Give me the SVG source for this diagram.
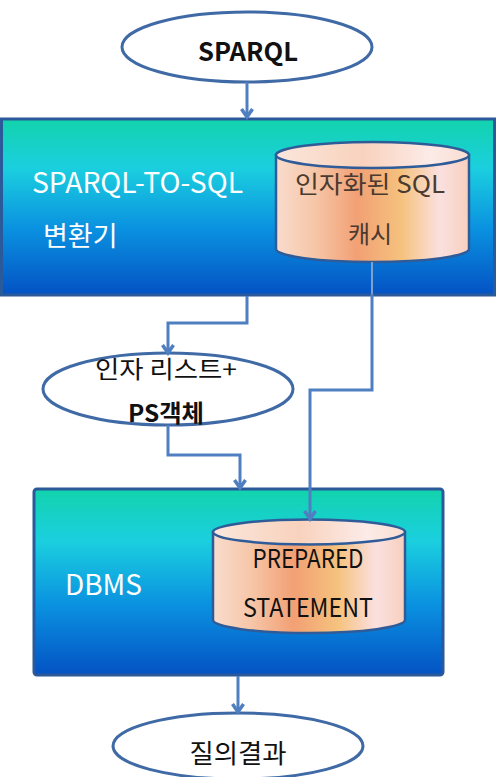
<svg xmlns="http://www.w3.org/2000/svg" width="496" height="777" viewBox="0 0 496 777">
<defs>
<linearGradient id="boxg" x1="0" y1="0" x2="0" y2="1">
<stop offset="0" stop-color="#12d3ad"/>
<stop offset="0.28" stop-color="#1bcfdf"/>
<stop offset="0.62" stop-color="#0a92e0"/>
<stop offset="1" stop-color="#0452c4"/>
</linearGradient>
<linearGradient id="cylg" x1="0" y1="0" x2="1" y2="0">
<stop offset="0" stop-color="#f9dccd"/>
<stop offset="0.2" stop-color="#f6c6a8"/>
<stop offset="0.42" stop-color="#f2a074"/>
<stop offset="0.65" stop-color="#f5c27e"/>
<stop offset="0.85" stop-color="#fbe0e0"/>
<stop offset="1" stop-color="#f7cfbd"/>
</linearGradient>
<linearGradient id="cyltop" x1="0" y1="0" x2="1" y2="0">
<stop offset="0" stop-color="#fbe6dc"/>
<stop offset="0.45" stop-color="#f8d2bd"/>
<stop offset="0.8" stop-color="#fcebe8"/>
<stop offset="1" stop-color="#f9ddd0"/>
</linearGradient>
<marker id="arr" markerWidth="14" markerHeight="14" refX="11" refY="7" orient="auto" markerUnits="userSpaceOnUse" viewBox="0 0 14 14">
<path d="M3,1.5 L11,7 L3,12.5" fill="none" stroke="#4f7fc0" stroke-width="3.5" stroke-linejoin="miter"/>
</marker>
</defs>
<style>
.box{fill:url(#boxg);stroke:#2b5a9a;stroke-width:3}
.oval{fill:#ffffff;stroke:#3f6aa6;stroke-width:3}
.cylbody{fill:url(#cylg);stroke:#2f5c98;stroke-width:2.5}
.cyltop{fill:url(#cyltop);stroke:#2f5c98;stroke-width:2.5}
.t{font-family:"Noto Sans CJK KR","Noto Sans",sans-serif}
.wt{fill:#ffffff}
.dk{fill:#111111}
.br{fill:#4a3a30}
.conn{fill:none;stroke:#4f7fc0;stroke-width:3;marker-end:url(#arr)}
.thin{fill:none;stroke:#7fa0cc;stroke-width:2}
</style>

<g id="node-sparql">
<ellipse class="oval" cx="247" cy="47" rx="125" ry="35"/>
<text class="t dk" x="248" y="61" font-size="26" font-weight="bold" text-anchor="middle" textLength="100" lengthAdjust="spacingAndGlyphs">SPARQL</text>
</g>

<g id="node-converter">
<rect class="box" x="1.5" y="119" width="493" height="176"/>
<text class="t wt" x="32" y="193" font-size="28" textLength="211" lengthAdjust="spacingAndGlyphs">SPARQL-TO-SQL</text>
<text class="t wt" x="43" y="246" font-size="27">변환기</text>
</g>

<g id="node-cache">
<path class="cylbody" d="M276,155 L276,249 A96.5,13 0 0 0 469,249 L469,155 Z"/>
<ellipse class="cyltop" cx="372.5" cy="155" rx="96.5" ry="13"/>
<text class="t br" x="370" y="193" font-size="24" text-anchor="middle" textLength="150" lengthAdjust="spacingAndGlyphs">인자화된 SQL</text>
<text class="t br" x="370" y="243" font-size="24" text-anchor="middle">캐시</text>
</g>

<g id="node-args">
<ellipse class="oval" cx="168" cy="389" rx="125" ry="36"/>
<text class="t dk" x="166" y="378" font-size="24" text-anchor="middle" textLength="142" lengthAdjust="spacingAndGlyphs">인자 리스트+</text>
<text class="t dk" x="166" y="422" font-size="24" font-weight="bold" text-anchor="middle" textLength="76" lengthAdjust="spacingAndGlyphs">PS객체</text>
</g>

<g id="node-dbms">
<rect class="box" x="34" y="489" width="409" height="186" rx="3"/>
<text class="t wt" x="65" y="595" font-size="28" textLength="77" lengthAdjust="spacingAndGlyphs">DBMS</text>
</g>

<g id="node-prepared">
<path class="cylbody" d="M213,532 L213,620 A96,13 0 0 0 405,620 L405,532 Z"/>
<ellipse class="cyltop" cx="309" cy="532" rx="96" ry="12.5"/>
<text class="t dk" x="308" y="568" font-size="26" text-anchor="middle" textLength="111" lengthAdjust="spacingAndGlyphs">PREPARED</text>
<text class="t dk" x="308" y="617" font-size="26" text-anchor="middle" textLength="130" lengthAdjust="spacingAndGlyphs">STATEMENT</text>
</g>

<g id="node-result">
<ellipse class="oval" cx="238" cy="746" rx="125" ry="33"/>
<text class="t dk" x="238" y="763" font-size="26" text-anchor="middle" textLength="97" lengthAdjust="spacingAndGlyphs">질의결과</text>
</g>

<g id="connectors">
<path class="conn" d="M247,82 L247,117"/>
<path class="conn" d="M247,296 L247,323 L168,323 L168,353"/>
<path class="conn" d="M168,425 L168,455 L240,455 L240,488"/>
<path class="thin" d="M372,262 L372,294"/>
<path class="conn" d="M372,294 L372,390 L310,390 L310,519"/>
<path class="conn" d="M238,676 L238,712"/>
</g>
</svg>
